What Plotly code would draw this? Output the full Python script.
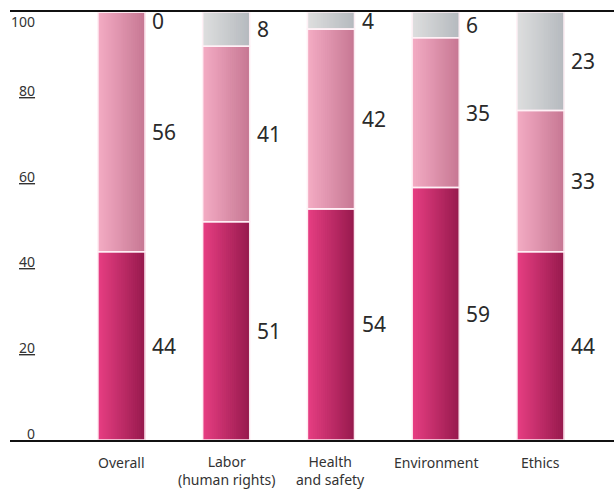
import plotly.graph_objects as go

# Survey shares (%) per category, stacked bottom to top
categories = ["Overall", "Labor<br>(human rights)", "Health<br>and safety", "Environment", "Ethics"]
seg_low = [44, 51, 54, 59, 44]
seg_mid = [56, 41, 42, 35, 33]
seg_top = [0, 8, 4, 6, 23]
y_ticks = [0, 20, 40, 60, 80, 100]

series = [seg_low, seg_mid, seg_top]
# left -> right gradient colours per segment
gradients = [
    ((0xE6, 0x3E, 0x82), (0x98, 0x1A, 0x4E)),
    ((0xF3, 0xAB, 0xC3), (0xC7, 0x78, 0x94)),
    ((0xDD, 0xDE, 0xDE), (0xB6, 0xBA, 0xBF)),
]

xs = list(range(len(categories)))
bar_w = 0.45
n_strips = 24

fig = go.Figure()

base = [0] * len(categories)
bases = []
for vals, (c0, c1) in zip(series, gradients):
    bases.append(list(base))
    for i in range(n_strips):
        t = i / (n_strips - 1)
        col = "rgb({},{},{})".format(*[round(a + (b - a) * t) for a, b in zip(c0, c1)])
        off = -bar_w / 2 + i * bar_w / n_strips
        fig.add_trace(go.Bar(
            x=xs, y=vals, base=base,
            width=bar_w / 2 - off, offset=off,
            marker=dict(color=col, line=dict(width=0)),
            hoverinfo="skip", showlegend=False,
        ))
    base = [b + v for b, v in zip(base, vals)]

# thin light separators between stacked segments
for vals, b in zip(series, bases):
    fig.add_trace(go.Bar(
        x=xs, y=vals, base=b, width=bar_w, offset=-bar_w / 2,
        marker=dict(color="rgba(0,0,0,0)", line=dict(color="rgba(255,240,245,0.95)", width=1.6)),
        hoverinfo="skip", showlegend=False,
    ))

annotations = []
# value labels to the right of each segment
for vals, b in zip(series, bases):
    for x, v, b0 in zip(xs, vals, b):
        mid = min(b0 + v / 2, 98)
        annotations.append(dict(
            x=x + bar_w / 2, y=mid, xref="x", yref="y",
            text=str(v), showarrow=False, xanchor="left", yanchor="middle",
            xshift=5, font=dict(size=21, color="#2a2a2a", family="Noto Sans"),
        ))

# y tick labels drawn just above their gridline position
for t in y_ticks:
    txt = str(t) if t in (0, 100) else "<u>{}</u>".format(t)
    annotations.append(dict(
        x=0, y=t, xref="paper", yref="y", text=txt, showarrow=False,
        xanchor="right", yanchor="middle", xshift=27,
        yshift=(-9 if t == 100 else 7),
        font=dict(size=14, color="#333333", family="Noto Sans"),
    ))

# category labels under the axis
for x, cat in zip(xs, categories):
    two_line = "<br>" in cat
    annotations.append(dict(
        x=x, y=0, xref="x", yref="y",
        text=cat, showarrow=False, xanchor="center",
        yanchor=("top" if two_line else "middle"),
        yshift=(-11 if two_line else -22), borderpad=0,
        font=dict(size=14, color="#333333", family="Noto Sans"),
    ))

fig.update_layout(
    width=614, height=489,
    margin=dict(l=10, r=0, t=12, b=49),
    barmode="overlay",
    plot_bgcolor="white", paper_bgcolor="white",
    annotations=annotations,
    xaxis=dict(
        range=[-1.064, 4.702], showticklabels=False,
        showline=True, linecolor="#111111", linewidth=1.5, mirror=True,
        showgrid=False, zeroline=False, ticks="", automargin=False,
    ),
    yaxis=dict(range=[0, 100], showticklabels=False, showgrid=False,
               zeroline=False, showline=False, ticks="", automargin=False),
)

fig.write_html("out.html")
